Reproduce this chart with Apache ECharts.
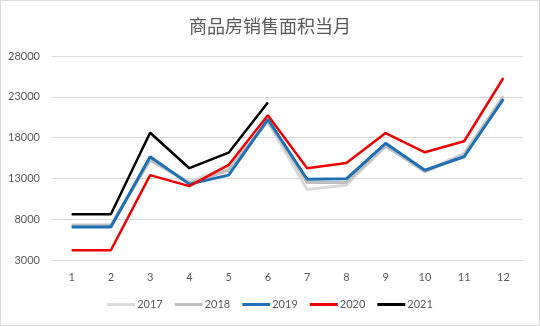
<!DOCTYPE html>
<html>
<head>
<meta charset="utf-8">
<script src="https://cdn.jsdelivr.net/npm/echarts@6/dist/echarts.min.js"></script>
<style>
  html, body { margin: 0; padding: 0; background: #fff; }
  #chart { width: 540px; height: 326px; }
</style>
</head>
<body>
<div id="chart"></div>
<script>
// Monthly floor area of commodity housing sold, by year
const months = ['1','2','3','4','5','6','7','8','9','10','11','12'];
const y2017 = [7300, 7300, 15200, 12600, 14400, 19900, 11650, 12200, 16900, 13900, 16100, 23100];
const y2018 = [7250, 7250, 15300, 12400, 14000, 20000, 12500, 12500, 17000, 13800, 15900, 23000];
const y2019 = [7050, 7050, 15650, 12300, 13400, 20250, 12900, 12950, 17300, 14000, 15650, 22700];
const y2020 = [4200, 4200, 13400, 12050, 14650, 20750, 14250, 14900, 18550, 16200, 17550, 25300];
const y2021 = [8600, 8600, 18600, 14250, 16150, 22300];
const yTicks = { min: 3000, max: 28000, step: 5000 };

const textColor = '#595959';
const font = 'Lato, "Noto Sans", sans-serif';

function line(name, data, color, width) {
  return {
    name: name,
    type: 'line',
    data: data,
    symbol: 'none',
    lineStyle: { color: color, width: width },
    itemStyle: { color: color },
    emphasis: { disabled: true },
    animation: false
  };
}

const chart = echarts.init(document.getElementById('chart'), null, { renderer: 'canvas' });
chart.setOption({
  backgroundColor: '#fff',
  title: {
    text: '商品房销售面积当月',
    left: 'center',
    top: 12,
    textStyle: { color: textColor, fontSize: 18, fontWeight: 'normal', fontFamily: '"Noto Sans CJK SC", sans-serif' }
  },
  graphic: [{
    type: 'rect',
    shape: { x: 0.5, y: 0.5, width: 539, height: 325 },
    style: { fill: 'none', stroke: '#d9d9d9', lineWidth: 1 },
    silent: true
  }],
  grid: { left: 52, right: 17, top: 56, bottom: 66 },
  legend: {
    bottom: 11,
    left: 'center',
    icon: 'rect',
    itemWidth: 28,
    itemHeight: 3,
    itemGap: 12,
    textStyle: { color: textColor, fontSize: 11, fontFamily: font, padding: [0, 0, 0, -3] },
    data: ['2017', '2018', '2019', '2020', '2021']
  },
  xAxis: {
    type: 'category',
    data: months,
    boundaryGap: true,
    axisLine: { show: true, lineStyle: { color: '#d9d9d9' } },
    axisTick: { show: false },
    axisLabel: { color: textColor, fontSize: 11, fontFamily: font, margin: 12 }
  },
  yAxis: {
    type: 'value',
    min: yTicks.min,
    max: yTicks.max,
    interval: yTicks.step,
    axisLine: { show: false },
    axisTick: { show: false },
    axisLabel: { color: textColor, fontSize: 11, fontFamily: font, margin: 12, formatter: v => String(v) },
    splitLine: { lineStyle: { color: '#d9d9d9', width: 1 } }
  },
  series: [
    line('2017', y2017, '#d9d9d9', 3),
    line('2018', y2018, '#bfbfbf', 3),
    line('2019', y2019, '#1f6fb5', 3),
    line('2020', y2020, '#ee0000', 2.5),
    line('2021', y2021, '#000000', 2.5)
  ]
});
</script>
</body>
</html>
